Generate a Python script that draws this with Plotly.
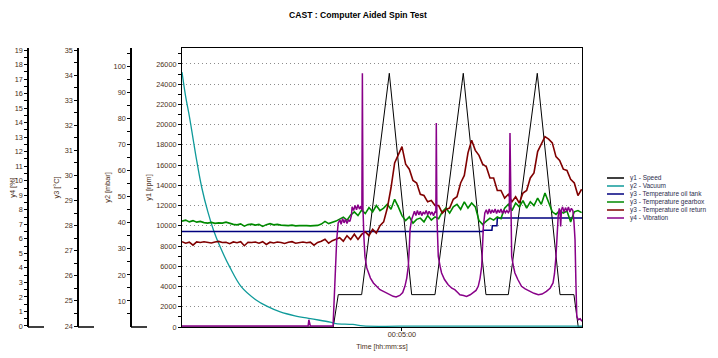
import plotly.graph_objects as go

# ---------------- data ----------------
# time in seconds from start of the record
speed_t = [0, 206.3, 213.1, 245.0, 282.7, 313.2, 345.0, 383.6, 414.5, 445.0, 484.5, 515.5, 534.5, 540.4, 545.5]
speed_rpm = [0, 0, 3200, 3200, 25080, 3200, 3200, 25080, 3200, 3200, 25080, 3200, 3200, 0, 0]

vac_t = [0, 5, 10, 15, 20, 27, 35, 43, 52, 65, 81, 100, 117, 134, 154, 175, 202, 210, 233, 247, 300, 545.5]
vac_mbar = [97.9, 88.5, 81.0, 72.5, 64.0, 53.5, 44.5, 37.2, 30.8, 23.1, 15.4, 10.6, 7.8, 5.8, 4.3, 3.2,
            1.9, 1.3, 1.0, 0.4, 0.3, 0.3]

tank_t = [0, 410.5, 411, 422.7, 423.2, 429.5, 430, 545.5]
tank_c = [27.77, 27.77, 27.82, 27.82, 28.00, 28.00, 28.30, 28.30]

temp_t = list(range(0, 550, 5))
gear_c = [
    28.18, 28.22, 28.15, 28.20, 28.14, 28.17,
    28.12, 28.10, 28.13, 28.09, 28.11, 28.10, 28.14, 28.08,
    28.05, 28.03, 28.07, 27.98, 28.04, 28.06, 28.02, 28.05, 27.97, 28.04, 28.08, 28.03, 28.05, 28.02,
    28.01, 28.00, 28.02, 27.99, 28.00, 28.01, 28.00, 27.99, 28.00, 28.01,
    28.06, 28.17, 28.08, 28.12, 28.18,
    28.26, 28.34, 28.22,
    28.42, 28.55, 28.40, 28.62, 28.48,
    28.72, 28.55, 28.80, 28.60, 28.70,
    28.85, 28.65, 29.05, 28.75,
    28.40, 28.20, 28.35, 28.10, 28.25,
    28.30, 28.15, 28.40, 28.22, 28.35, 28.28,
    28.55, 28.70, 28.50, 28.75,
    28.85, 28.65, 28.95, 28.70, 28.90, 28.75,
    28.20, 28.05, 28.18,
    28.30, 28.22, 28.35, 28.28,
    28.70, 28.85, 28.60, 28.90, 28.75, 29.00, 28.70, 28.95, 28.80, 29.10, 28.85, 29.30,
    28.90, 28.55, 28.45,
    28.60, 28.50, 28.58, 28.15, 28.55, 28.60, 28.52,
]
ret_c = [
    27.36, 27.30, 27.34, 27.22, 27.35, 27.33, 27.36, 27.34, 27.31, 27.35, 27.37, 27.33, 27.34, 27.28,
    27.35, 27.32, 27.36, 27.20, 27.34, 27.33, 27.35, 27.30, 27.36, 27.25, 27.34, 27.31, 27.35, 27.33,
    27.29, 27.34, 27.36, 27.30, 27.33, 27.35, 27.32, 27.34, 27.22, 27.33,
    27.38, 27.46, 27.30, 27.40, 27.46,
    27.52, 27.38, 27.60, 27.45,
    27.66, 27.45, 27.65,
    27.75, 27.60, 27.85, 27.70,
    28.00, 28.15,
    28.70, 29.50, 30.50, 30.80, 31.15, 30.45, 30.25, 29.80, 29.70, 29.25, 29.20, 28.95, 29.00, 28.80,
    28.80, 28.50, 28.65, 28.70, 29.05, 29.15, 29.70, 30.00, 30.90, 31.40, 31.00, 30.80, 30.45, 30.35,
    29.90, 29.90, 29.40, 29.40, 29.10, 29.25, 28.95, 29.15, 28.90, 29.30, 29.40, 29.90, 30.10, 30.95,
    31.25, 31.55, 31.45, 31.30, 30.75, 30.60, 30.25, 30.20, 29.85, 29.70, 29.20, 29.45,
]

vib_t = [0, 172, 173, 175, 206, 208.6, 211, 213, 215.5, 217, 219, 221, 223, 225, 227, 229, 231, 232, 234, 236,
         238, 240, 242, 244, 245.3, 246, 246.8, 248, 249.5, 252, 254, 257, 261, 265, 270, 274, 279, 283, 288,
         292, 297, 301, 304, 306.5, 308.6, 310, 311, 313, 315, 317, 319, 321, 323, 325, 327, 329, 331, 333,
         335, 337, 339, 341, 343, 345, 346.2, 346.8, 347.6, 348.5, 349.5, 352, 354, 358, 363, 368, 372, 376,
         379, 384, 388, 393, 397, 401, 404, 406.5, 408.7, 410, 411, 413, 415, 417, 419, 421, 423, 425, 427,
         429, 431, 433, 435, 437, 439, 441, 443, 445, 446.3, 447.3, 448.2, 449, 449.6, 452, 454, 458, 463,
         468, 474.5, 480, 486, 491, 497, 502, 506, 508, 510, 511.5, 513, 514.5, 515.5, 516.4, 517.5, 519,
         521, 523, 525, 527, 529, 531, 533, 534.5, 536, 537.2, 538.4, 540.4, 543, 545.5]
vib_pct = [0, 0, 0.43, 0, 0, 3.65, 5.94, 7.09, 7.3, 7.0, 7.4, 7.1, 7.35, 7.05, 7.3, 7.2, 7.6, 8.2, 7.95, 8.3,
           8.0, 8.35, 8.05, 8.25, 8.0, 17.4, 8.1, 6.2, 4.79, 4.0, 3.65, 3.3, 2.96, 2.75, 2.5, 2.4, 2.27, 2.15,
           2.04, 2.0, 2.1, 2.3, 2.73, 3.3, 4.1, 5.4, 6.63, 7.3, 7.66, 7.9, 7.6, 7.95, 7.65, 7.9, 7.6, 7.85,
           7.7, 7.95, 7.65, 7.9, 7.7, 7.85, 7.6, 7.85, 7.8, 13.97, 7.6, 6.0, 4.79, 4.1, 3.65, 3.2, 2.84, 2.6,
           2.5, 2.3, 2.15, 2.1, 2.04, 2.15, 2.27, 2.45, 2.73, 3.3, 4.1, 5.5, 6.86, 7.78, 8.0, 7.7, 8.05, 7.75,
           8.0, 7.8, 8.05, 7.75, 8.0, 7.8, 8.05, 7.75, 8.0, 7.8, 7.95, 7.8, 7.9, 13.28, 7.6, 6.0, 4.79, 4.1,
           3.65, 3.2, 2.73, 2.55, 2.38, 2.25, 2.15, 2.2, 2.38, 2.6, 2.96, 3.6, 4.79, 6.3, 7.54, 8.1, 7.9, 6.86,
           8.0, 8.2, 7.85, 8.15, 7.9, 8.2, 7.85, 8.1, 7.95, 7.2, 5.94, 3.0, 0.66, 0.43, 0.5, 0.32]

series_names = ["y1 - Speed", "y2 - Vacuum", "y3 - Temperature oil tank",
                "y3 - Temperature gearbox", "y3 - Temperature oil return", "y4 - Vibration"]
series_colors = ["#000000", "#0f9a9a", "#00007f", "#008a00", "#800000", "#880088"]

x_tick_vals = [300]
x_tick_text = ["00:05:00"]

# ---------------- layout helpers ----------------
# the page body has an 8px margin, so the figure is drawn 8px right/down
OFF = 8
W, H = 710, 350
PL, PR, PT, PB = 182, 582, 48, 327          # plot area in page pixels
ML, MR, MT, MB = 12, W - (PR - OFF), PT - OFF, H - (PB - OFF)
PW, PH = W - ML - MR, H - MT - MB


def pxx(px):
    return (px - OFF - ML) / PW


def pxy(py):
    return (H - MB - (py - OFF)) / PH


FONT = "Liberation Sans, Arial, sans-serif"
TXT = "#4a3020"
TF = dict(family=FONT, size=7.3, color=TXT)
GRID_DASH = "1px,3px"

fig = go.Figure()
fig.add_trace(go.Scatter(x=speed_t, y=speed_rpm, mode="lines", name=series_names[0],
                         line=dict(color=series_colors[0], width=1), yaxis="y"))
fig.add_trace(go.Scatter(x=vac_t, y=vac_mbar, mode="lines", name=series_names[1],
                         line=dict(color=series_colors[1], width=1.3, shape="spline"), yaxis="y2"))
fig.add_trace(go.Scatter(x=tank_t, y=tank_c, mode="lines", name=series_names[2],
                         line=dict(color=series_colors[2], width=1.5), yaxis="y3"))
fig.add_trace(go.Scatter(x=temp_t, y=gear_c, mode="lines", name=series_names[3],
                         line=dict(color=series_colors[3], width=1.6), yaxis="y3"))
fig.add_trace(go.Scatter(x=temp_t, y=ret_c, mode="lines", name=series_names[4],
                         line=dict(color=series_colors[4], width=1.6), yaxis="y3"))
fig.add_trace(go.Scatter(x=vib_t, y=vib_pct, mode="lines", name=series_names[5],
                         line=dict(color=series_colors[5], width=1.5), yaxis="y4"))


def left_axis(pos, rng, tickvals, minorvals, title, standoff):
    d = dict(range=rng, tickmode="array", tickvals=tickvals, tickfont=TF, tickformat="d",
             showline=True, linecolor="black", linewidth=1.5, ticks="outside", ticklen=3,
             tickcolor="black", showgrid=False, zeroline=False, automargin=False,
             minor=dict(tickmode="array", tickvals=minorvals, ticks="outside", ticklen=3,
                        tickcolor="black", showgrid=False),
             title=dict(text=title, font=dict(family=FONT, size=7.3, color=TXT), standoff=standoff),
             fixedrange=True)
    if pos is not None:
        d.update(overlaying="y", anchor="free", position=pos, side="left")
    return d


y1_major = list(range(0, 27000, 2000))
y1_minor = list(range(1000, 28000, 2000))
y2_major = list(range(10, 101, 10))
y2_minor = list(range(5, 106, 10))
y3_major = list(range(24, 36))
y3_minor = [v + 0.5 for v in range(24, 35)]
y4_major = list(range(0, 20))
y4_minor = [v + 0.5 for v in range(0, 19)]

ya1 = left_axis(None, [0, 27580], y1_major, y1_minor, "y1 [rpm]", 3)
ya1.update(showgrid=True, gridcolor="#8c8c8c", griddash=GRID_DASH, gridwidth=1, linewidth=1,
           mirror=True)

fig.update_layout(
    width=W, height=H,
    margin=dict(l=ML, r=MR, t=MT, b=MB),
    paper_bgcolor="white", plot_bgcolor="white",
    showlegend=False,
    font=dict(family=FONT, size=7.3, color=TXT),
    title=dict(text="<b>CAST : Computer Aided Spin Test</b>", x=(358 - OFF) / W, xanchor="center",
               xref="container", y=1 - (15 - OFF) / H, yanchor="middle", yref="container",
               font=dict(family=FONT, size=8.6, color="black")),
    xaxis=dict(domain=[pxx(PL), 1], range=[0, 545.5], showline=True, linecolor="black",
               linewidth=1, mirror=True, ticks="outside", ticklen=3, tickcolor="black",
               tickmode="array", tickvals=x_tick_vals, ticktext=x_tick_text, tickfont=TF,
               ticklabelstandoff=-3,
               showgrid=False, zeroline=False, automargin=False, fixedrange=True,
               title=dict(text="Time [hh:mm:ss]", font=dict(family=FONT, size=7.0, color=TXT),
                          standoff=6)),
    yaxis=ya1,
    yaxis2=left_axis(pxx(131), [0, 107.2], y2_major, y2_minor, "y2 [mbar]", 1),
    yaxis3=left_axis(pxx(78), [23.96, 35.08], y3_major, y3_minor, "y3 [°C]", 3),
    yaxis4=left_axis(pxx(28), [-0.07, 19.14], y4_major, y4_minor, "y4 [%]", 1),
)

# bottom stubs of the free axes
shapes = []
for ax_px in (28, 78, 131):
    shapes.append(dict(type="line", xref="paper", yref="paper", x0=pxx(ax_px), x1=pxx(ax_px + 16),
                       y0=0, y1=0, line=dict(color="black", width=1.5)))

# legend drawn manually (compact rows like the reference)
annotations = []
for k, (name, col) in enumerate(zip(series_names, series_colors)):
    ry = 178 + 8 * k
    shapes.append(dict(type="line", xref="paper", yref="paper", x0=pxx(607), x1=pxx(624),
                       y0=pxy(ry), y1=pxy(ry), line=dict(color=col, width=1.5)))
    annotations.append(dict(xref="paper", yref="paper", x=pxx(629), y=pxy(ry), text=name,
                            showarrow=False, xanchor="left", yanchor="middle", borderpad=0,
                            font=dict(family=FONT, size=6.5, color="#2c2c4c")))
fig.update_layout(shapes=shapes, annotations=annotations)

fig.write_html("out.html")
